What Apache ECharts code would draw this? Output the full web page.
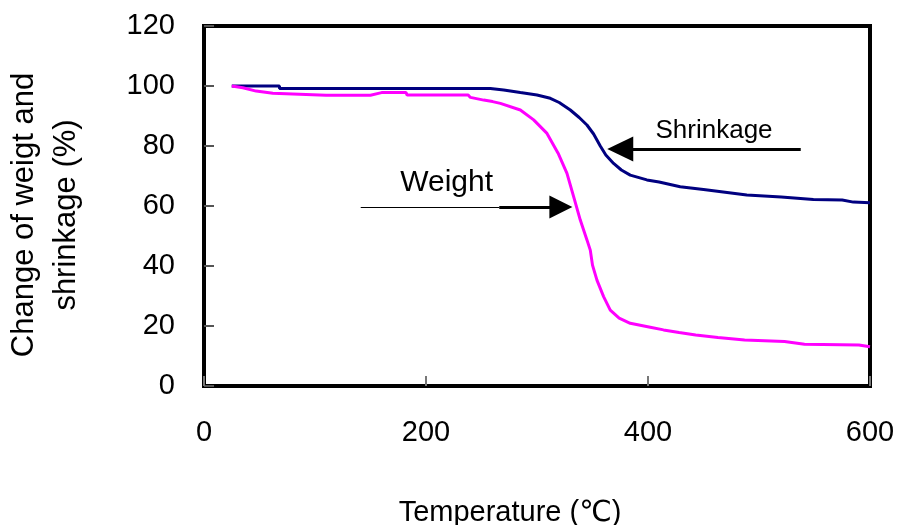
<!DOCTYPE html>
<html>
<head>
<meta charset="utf-8">
<script src="https://cdn.jsdelivr.net/npm/echarts@6/dist/echarts.min.js"></script>
<style>
html,body{margin:0;padding:0;background:#fff;}
#chart{width:899px;height:525px;}
</style>
</head>
<body>
<div id="chart"></div>
<script>
// ---- data (temperature °C, percent) ----
const xTicks = [0, 200, 400, 600];
const yTicks = [0, 20, 40, 60, 80, 100, 120];

const shrinkage = [
  [25,100],[40,100],[68,100],[68,99.2],[150,99.2],[258,99.2],[270,98.7],[285,97.8],
  [300,97],[312,95.9],[320,94.5],[330,92],[338,89.5],[345,87],[351,84],[357,80],
  [362,77],[369,74.2],[376,72],[384,70.3],[399,68.7],[410,68],[429,66.4],[450,65.5],
  [489,63.7],[520,63],[549,62.2],[575,62],[585,61.3],[600,61.1]
];

const weight = [
  [25,100],[35,99.4],[47,98.3],[62,97.6],[110,96.9],[150,96.9],[160,97.8],[182,97.8],
  [183,97],[238,97],[240,96.2],[252,95.3],[260,94.8],[267,94.2],[285,92],[297,88.7],
  [309,84.2],[319,77.6],[327,70.9],[333,63.1],[339,55.3],[345,48.7],[348,45.3],[350,40.3],
  [354,35.3],[360,29.8],[366,25.3],[374,22.6],[384,20.9],[402,19.6],[414,18.7],[428,17.8],
  [443,17],[463,16.2],[487,15.3],[523,14.8],[541,13.9],[590,13.7],[600,13.1]
];

// annotation anchors in data coordinates
const shrinkLabel = {text: 'Shrinkage', at: [459.5, 85.1]};
const shrinkArrow = {from: [537.6, 79], to: [375, 79]};
const weightLabel = {text: 'Weight', at: [218.6, 67.8]};
const weightArrowThin = {from: [141.2, 59.7], to: [266, 59.7]};
const weightArrow = {from: [266, 59.7], to: [321.5, 59.7]};

const FONT = '"Liberation Sans", Arial, "DejaVu Sans", sans-serif';

const chart = echarts.init(document.getElementById('chart'));
chart.setOption({
  animation: false,
  backgroundColor: '#fff',
  grid: {
    left: 204, right: 29, top: 26, bottom: 139,
    containLabel: false, outerBoundsMode: 'none',
    show: true, borderColor: '#000', borderWidth: 4, backgroundColor: 'transparent'
  },
  xAxis: {
    type: 'value', min: xTicks[0], max: xTicks[xTicks.length - 1], interval: 200,
    axisLine: {show: false},
    splitLine: {show: false},
    axisTick: {show: true, inside: true, length: 10, lineStyle: {color: '#777', width: 2}},
    axisLabel: {margin: 32, fontFamily: FONT, fontSize: 29, color: '#000'},
    name: 'Temperature (℃)', nameLocation: 'middle', nameGap: 112,
    nameTextStyle: {fontFamily: FONT, fontSize: 29, color: '#000', padding: [0, 54, 0, 0]}
  },
  yAxis: {
    type: 'value', min: yTicks[0], max: yTicks[yTicks.length - 1], interval: 20,
    axisLine: {show: false},
    splitLine: {show: false},
    axisTick: {show: true, inside: true, length: 10, lineStyle: {color: '#555', width: 2}},
    axisLabel: {margin: 29, fontFamily: FONT, fontSize: 29, color: '#000'},
    name: 'Change of weigt and\nshrinkage (%)', nameLocation: 'middle', nameGap: 117, nameRotate: 90,
    nameTextStyle: {fontFamily: FONT, fontSize: 31, color: '#000', lineHeight: 42, align: 'center', padding: [0, 18, 0, 0]}
  },
  series: [
    {
      name: 'Shrinkage', type: 'line', data: shrinkage, showSymbol: false, symbol: 'none',
      lineStyle: {color: '#000080', width: 3}, itemStyle: {color: '#000080'}, z: 3,
      markLine: {
        silent: true, animation: false,
        lineStyle: {color: '#000', width: 3, type: 'solid'},
        label: {show: false},
        data: [[
          {coord: shrinkArrow.from, symbol: 'none'},
          {coord: shrinkArrow.to, symbol: 'triangle', symbolSize: [25, 26]}
        ]]
      },
      markPoint: {
        silent: true, animation: false, symbol: 'rect', symbolSize: 1,
        itemStyle: {color: 'rgba(0,0,0,0)'},
        label: {show: true, position: 'inside', formatter: '{b}', fontFamily: FONT, fontSize: 26, color: '#000'},
        data: [{name: shrinkLabel.text, coord: shrinkLabel.at}]
      }
    },
    {
      name: 'Weight', type: 'line', data: weight, showSymbol: false, symbol: 'none',
      lineStyle: {color: '#FF00FF', width: 3}, itemStyle: {color: '#FF00FF'}, z: 3,
      markLine: {
        silent: true, animation: false,
        label: {show: false},
        data: [
          [
            {coord: weightArrowThin.from, symbol: 'none', lineStyle: {color: '#000', width: 1, type: 'solid'}},
            {coord: weightArrowThin.to, symbol: 'none'}
          ],
          [
            {coord: weightArrow.from, symbol: 'none', lineStyle: {color: '#000', width: 3, type: 'solid'}},
            {coord: weightArrow.to, symbol: 'triangle', symbolSize: [23, 23]}
          ]
        ]
      },
      markPoint: {
        silent: true, animation: false, symbol: 'rect', symbolSize: 1,
        itemStyle: {color: 'rgba(0,0,0,0)'},
        label: {show: true, position: 'inside', formatter: '{b}', fontFamily: FONT, fontSize: 30, color: '#000'},
        data: [{name: weightLabel.text, coord: weightLabel.at}]
      }
    }
  ]
});
</script>
</body>
</html>
